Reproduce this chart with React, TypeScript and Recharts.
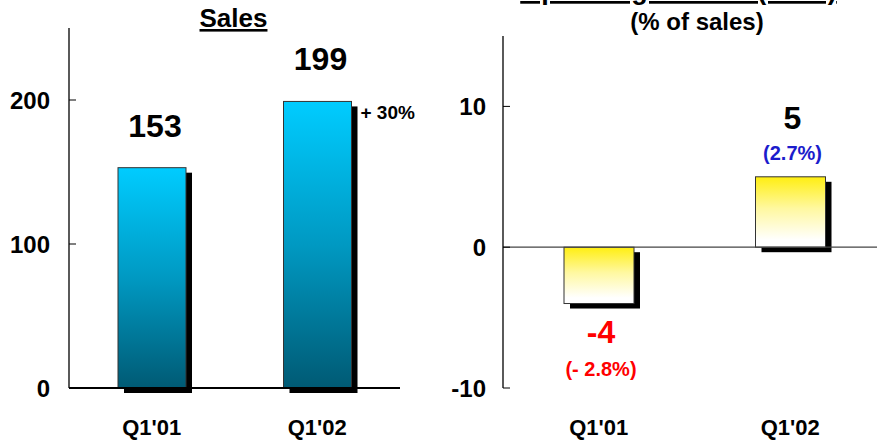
import { BarChart, Bar, XAxis, YAxis, ReferenceLine, LabelList } from "recharts";

const FONT = "'Liberation Sans', Arial, Helvetica, sans-serif";

const categories = ["Q1'01", "Q1'02"];
const sales = [153, 199];
const salesTicks = [0, 100, 200];
const growthLabel = "+ 30%";
const ebit = [-4, 5];
const ebitPct = ["(- 2.8%)", "(2.7%)"];
const ebitTicks = [-10, 0, 10];

const salesData = categories.map((name, i) => ({ name, value: sales[i] }));
const ebitData = categories.map((name, i) => ({ name, value: ebit[i], pct: ebitPct[i] }));

function ShadowBar(props: any) {
  const { x, y, width, height, fill } = props;
  const top = Math.min(y, y + height);
  const h = Math.abs(height);
  return (
    <g>
      <rect x={x + 6} y={top + 5} width={width} height={h} fill="#000" />
      <rect x={x} y={top} width={width} height={h} fill={fill} stroke="#333" strokeWidth={1} />
    </g>
  );
}

function CatTick(props: any) {
  const { x, y, payload } = props;
  return (
    <text x={x} y={y + 47} textAnchor="middle" fontFamily={FONT} fontWeight="bold" fontSize={22} fill="#000">
      {payload.value}
    </text>
  );
}

function SalesLabel(props: any) {
  const { x, y, width, height, value, index } = props;
  const top = Math.min(y, y + height);
  return (
    <g fontFamily={FONT} fontWeight="bold">
      <text x={x + width / 2 + 3} y={top - 31} textAnchor="middle" fontSize={32} fill="#000">
        {value}
      </text>
      {index === 1 && (
        <text x={x + width + 9} y={top + 18} fontSize={19} fill="#000">
          {growthLabel}
        </text>
      )}
    </g>
  );
}

function EbitLabel(props: any) {
  const { x, y, width, height, value, index } = props;
  const top = Math.min(y, y + height);
  const bottom = Math.max(y, y + height);
  const cx = x + width / 2 + 2;
  const neg = value < 0;
  return (
    <g fontFamily={FONT} fontWeight="bold" textAnchor="middle">
      <text x={cx} y={neg ? bottom + 39 : top - 48} fontSize={32} fill={neg ? "#ff0000" : "#000"}>
        {value}
      </text>
      <text x={cx} y={neg ? bottom + 72 : top - 17} fontSize={20} fill={neg ? "#ff0000" : "#1c1ccc"}>
        {ebitData[index]?.pct}
      </text>
    </g>
  );
}

const yTick = { fill: "#000", fontSize: 24, fontWeight: "bold", fontFamily: FONT };

export default function App() {
  return (
    <div style={{ position: "absolute", left: 0, top: 0, width: 877, height: 442, overflow: "hidden", background: "#fff" }}>
      <svg width={877} height={442} style={{ position: "absolute", left: 0, top: 0 }}>
        <text x={233.5} y={27} textAnchor="middle" fontFamily={FONT} fontWeight="bold" fontSize={26} textDecoration="underline">
          Sales
        </text>
        <text x={678.5} y={-1} textAnchor="middle" fontFamily={FONT} fontWeight="bold" fontSize={27} textDecoration="underline">
          Operating Income (EBIT)
        </text>
        <text x={697} y={30} textAnchor="middle" fontFamily={FONT} fontWeight="bold" fontSize={24}>
          (% of sales)
        </text>
      </svg>

      <div style={{ position: "absolute", left: 0, top: 0 }}>
        <BarChart width={420} height={442} data={salesData} margin={{ top: 28, right: 20, left: 0, bottom: 0 }}>
          <defs>
            <linearGradient id="blueGrad" x1="0" y1="0" x2="0" y2="1">
              <stop offset="0%" stopColor="#00ccff" />
              <stop offset="50%" stopColor="#0099c2" />
              <stop offset="100%" stopColor="#005a74" />
            </linearGradient>
          </defs>
          <XAxis dataKey="name" height={54} tickSize={0} tickMargin={0} tick={<CatTick />} axisLine={{ stroke: "#000", strokeWidth: 2 }} />
          <YAxis
            width={69}
            domain={[0, 250]}
            ticks={salesTicks}
            tickSize={-7}
            tickMargin={26}
            tick={yTick}
            tickLine={{ stroke: "#000" }}
            axisLine={{ stroke: "#000", strokeWidth: 1.3 }}
          />
          <Bar dataKey="value" barSize={68} fill="url(#blueGrad)" shape={<ShadowBar />} isAnimationActive={false}>
            <LabelList dataKey="value" content={<SalesLabel />} />
          </Bar>
        </BarChart>
      </div>

      <div style={{ position: "absolute", left: 440, top: 0 }}>
        <BarChart width={446} height={442} data={ebitData} margin={{ top: 36, right: 0, left: 0, bottom: 0 }}>
          <defs>
            <linearGradient id="yellowGrad" x1="0" y1="0" x2="0" y2="1">
              <stop offset="0%" stopColor="#ffee11" />
              <stop offset="45%" stopColor="#fff8a0" />
              <stop offset="90%" stopColor="#ffffff" />
            </linearGradient>
          </defs>
          <XAxis dataKey="name" height={54} tickSize={0} tickMargin={0} tick={<CatTick />} axisLine={false} />
          <YAxis
            width={63}
            domain={[-10, 15]}
            ticks={ebitTicks}
            tickSize={-7}
            tickMargin={24}
            tick={yTick}
            tickLine={{ stroke: "#000" }}
            axisLine={{ stroke: "#000", strokeWidth: 1.3 }}
          />
          <ReferenceLine y={0} stroke="#444" strokeWidth={1.2} />
          <Bar dataKey="value" barSize={70} fill="url(#yellowGrad)" shape={<ShadowBar />} isAnimationActive={false}>
            <LabelList dataKey="value" content={<EbitLabel />} />
          </Bar>
        </BarChart>
      </div>
    </div>
  );
}
